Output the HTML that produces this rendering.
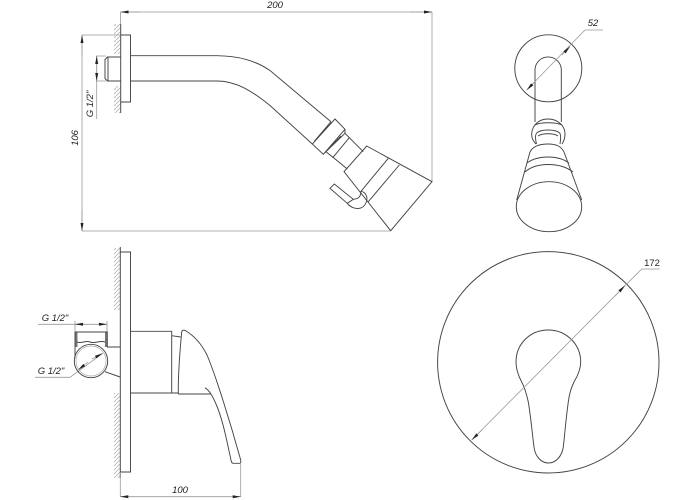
<!DOCTYPE html>
<html><head><meta charset="utf-8"><style>
html,body{margin:0;padding:0;background:#fff;width:700px;height:500px;overflow:hidden}
svg{display:block}
.m{fill:none;stroke:#444;stroke-width:.95}
.d{fill:none;stroke:#999;stroke-width:.8}
.h{fill:none;stroke:#aaa;stroke-width:.7}
text{font-family:"Liberation Sans",sans-serif;font-size:9.5px;font-style:italic;fill:#222}
</style></head><body>
<svg width="700" height="500" viewBox="0 0 700 500">
<defs>
<pattern id="hat" width="4" height="4" patternUnits="userSpaceOnUse"><path d="M-1 5L5 -1" stroke="#aaa" stroke-width=".7"/></pattern>
<marker id="a" viewBox="0 0 8 4" refX="8" refY="2" markerWidth="8" markerHeight="4" orient="auto-start-reverse" markerUnits="userSpaceOnUse"><path d="M0 0.5L8 2L0 3.5Z" fill="#222"/></marker>
</defs>

<!-- Hatching -->
<rect x="114" y="24" width="6.5" height="30" fill="url(#hat)"/>
<rect x="114" y="86" width="6.5" height="27" fill="url(#hat)"/>
<rect x="114" y="248" width="6.5" height="62" fill="url(#hat)"/>
<rect x="114" y="393" width="6.5" height="85" fill="url(#hat)"/>

<!-- Top-left dims -->
<path class="d" d="M120.5 12V24M120.5 12H432M432 12V182M82 35H120M82 231H390M82 35V231M96.7 56V119M96 56H106M96 81H106"/>
<path class="d" marker-start="url(#a)" d="M120.5 12H140"/>
<path class="d" marker-end="url(#a)" d="M410 12H432"/>
<path class="d" marker-start="url(#a)" d="M82 35V55"/>
<path class="d" marker-end="url(#a)" d="M82 210V231"/>
<path class="d" marker-start="url(#a)" marker-end="url(#a)" d="M96.7 56V81"/>
<text x="275" y="8" text-anchor="middle">200</text>
<text transform="translate(78 138) rotate(-90)" text-anchor="middle">106</text>
<text transform="translate(93 104) rotate(-90)" text-anchor="middle">G 1/2"</text>

<!-- Shower arm -->
<path class="m" d="M120.7 24V113"/>
<path class="m" d="M120.7 35H130.5V102H120.7"/>
<path class="m" d="M120.7 57H107.5L105 59.5V78.5L107.5 81H120.7M108 57V81"/>
<path class="m" d="M130.5 55.7H217C240 56 256 61 270 70.5L331 121.7M130.5 81H217C236 81 252 91 270 105.5L312.3 144"/>
<path class="m" d="M335 119L345 129.3L323.3 154.3L312.3 144ZM331 121.7L314.5 141M345 133.3L349.3 137.7L333 157.3L326 151.7ZM341 136L326 151.7M345 129.3L345 133.3M323.3 154.3L326 151.7"/>
<path class="m" d="M349.3 137.7L363.3 151.7M333 157.3L347.3 169"/>
<path class="m" d="M366.7 146L432 181.7L390.7 230.7L344 171.7ZM388.3 158.3L360.7 191.7M399.3 165L368.3 201.7"/>
<path class="m" d="M330 188.3L334.3 184L353.3 199.3L347.3 203.3ZM347.3 203.3C352 210 366 212 367 198C366 193 363 191 360.7 191.7M353.3 199.3C358 199 361 197 360.7 191.7"/>

<!-- Top-right view -->
<circle class="m" cx="548.3" cy="68.3" r="33.5"/>
<path class="m" d="M535 69A13.2 13.2 0 0 1 561.3 69"/>
<path class="m" d="M535 69V122M561.3 69V122"/>
<path class="d" d="M526.7 90L585 30H603"/>
<path class="d" marker-start="url(#a)" d="M526.7 90L536 80.5"/>
<path class="d" marker-end="url(#a)" d="M562 55L570 46.5"/>
<text x="593" y="26" text-anchor="middle">52</text>
<path class="m" d="M536 144C533 141 531.5 138 531.7 134C532 126 538 119 548 119C558 119 565 126 565 134C565 138 564 141 562 144"/>
<path class="m" d="M535 125C540 122 556 122 562 125M536.5 144C535 138 535 135 536.7 133C541 129 555 129 559.7 133C561 135 561 138 560 144M538 136C542 133 554 133 558 136"/>
<path class="m" d="M530 152C533 146 540 144 548 144C556 144 561 146 564 152M530 152L516.7 200M564 152L581.7 200M527 163C538 155 558 155 569 163M525 172C536 162 560 162 573 172"/>
<ellipse class="m" cx="549" cy="206.7" rx="32.7" ry="25"/>

<!-- Bottom-left view -->
<path class="d" d="M38 324.3H107M75 321V332M107 321V332M35 377.3H70L102.7 353.3"/>
<path class="d" marker-start="url(#a)" d="M75 324.3H85"/>
<path class="d" marker-end="url(#a)" d="M97 324.3H107"/>
<path class="d" marker-start="url(#a)" d="M78 370L88 362"/>
<path class="d" marker-end="url(#a)" d="M92 359L102.7 353.3"/>
<text x="55" y="321" text-anchor="middle">G 1/2"</text>
<text x="51" y="374" text-anchor="middle">G 1/2"</text>
<rect x="75" y="332" width="2.5" height="15" fill="#777"/>
<rect x="105" y="332" width="2.5" height="15" fill="#777"/>
<path class="m" d="M75 332H107.3V347M75 332V358M77 342C82 344 85 340 90 342C95 344 100 340 105 342M107 347H120M105 371.7L120 377"/>
<circle class="m" cx="91" cy="361" r="16.7"/>
<circle class="h" cx="91" cy="361" r="15"/>
<path class="m" d="M120.3 247V478"/>
<path class="m" d="M120.3 252H130.5V472H120.3"/>
<path class="m" d="M130.5 331.3H171.7V393H130.5M171.7 335.7L180.7 337M171.7 393H178.3"/>
<path class="m" d="M178.3 394H211M178.3 394C178 375 180 350 181.7 332C182 330 184 329.5 186 331C196 337 203 347 207 355C216 376 231 425 240.7 460C241 462 240.5 463.3 240 463.3L233 463.3C231.5 463 231.5 462 231 460C227 442 223 420 216 404C213 397 210 391 205 387.7"/>
<path class="d" d="M120.3 472V497M240.7 464V497"/>
<path class="d" marker-start="url(#a)" marker-end="url(#a)" d="M120.3 496.7H240.7"/>
<text x="180" y="493" text-anchor="middle">100</text>

<!-- Bottom-right view -->
<circle class="m" cx="548.3" cy="362.3" r="110.7"/>
<path class="m" d="M548.3 330C566 330 580.7 344 580.7 362C580.7 370 577 377 574 382C570 390 569 396 568.3 402C566 418 565 432 563.3 447C562 456 556 463 548.3 463C541 463 535 456 534 447C532 432 531 418 528.3 402C527 396 525 388 521.7 382C519 377 516 370 516 362C516 344 530 330 548.3 330Z"/>
<path class="d" d="M471.7 440L641.7 269H660"/>
<path class="d" marker-start="url(#a)" d="M471.7 440L482 430"/>
<path class="d" marker-end="url(#a)" d="M615 296L625 285.5"/>
<text x="652" y="266" text-anchor="middle" style="font-style:normal">172</text>
</svg>
</body></html>
